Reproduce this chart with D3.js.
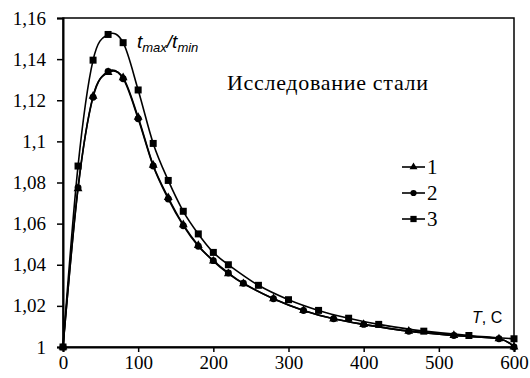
<!DOCTYPE html>
<html>
<head>
<meta charset="utf-8">
<script src="https://cdn.jsdelivr.net/npm/d3@7"></script>
<style>
  body { margin: 0; background: #fff; }
  .serif { font-family: "Times New Roman", "Liberation Serif", "DejaVu Serif", serif; }
  .tick text { font-family: "Times New Roman", "Liberation Serif", "DejaVu Serif", serif; font-size: 19px; fill: #000; }
</style>
</head>
<body>
<div id="app"></div>
<script>
// series values
const xs12 = [0, 20, 40, 60, 80, 100, 120, 140, 160, 180, 200, 220, 240, 280, 320, 360, 400, 460, 520, 580, 600];
const ys1 = [1, 1.077, 1.122, 1.1335, 1.131, 1.1117, 1.0884, 1.0727, 1.0595, 1.0494, 1.0418, 1.0357, 1.0308, 1.0235, 1.0178, 1.0137, 1.011, 1.0077, 1.0056, 1.004, 1.0];
const ys2 = [1, 1.0775, 1.1215, 1.134, 1.1305, 1.111, 1.088, 1.072, 1.059, 1.049, 1.042, 1.036, 1.031, 1.0235, 1.0178, 1.0137, 1.011, 1.0077, 1.0056, 1.004, 1.0];
const xs3 = [0, 20, 40, 60, 80, 100, 120, 140, 160, 180, 200, 220, 260, 300, 340, 380, 420, 480, 540, 600];
const ys3 = [1, 1.088, 1.1395, 1.152, 1.148, 1.125, 1.099, 1.081, 1.066, 1.055, 1.046, 1.040, 1.030, 1.023, 1.0178, 1.014, 1.011, 1.0077, 1.0056, 1.004];
const seriesNames = ['1', '2', '3'];
const xTicks = [0, 100, 200, 300, 400, 500, 600];
const yTicks = [1, 1.02, 1.04, 1.06, 1.08, 1.1, 1.12, 1.14, 1.16];

const svg = d3.select('#app').append('svg')
    .attr('width', 530)
    .attr('height', 378);

const margin = { top: 18, right: 16, bottom: 31, left: 63 };
const width = 530 - margin.left - margin.right;
const height = 378 - margin.top - margin.bottom;

const g = svg.append('g')
    .attr('transform', `translate(${margin.left},${margin.top})`);

const x = d3.scaleLinear().domain([0, 600]).range([0, width]);
const y = d3.scaleLinear().domain([1, 1.16]).range([height, 0]);

const fmt = d => d3.format('.2~f')(d).replace('.', ',');

// frame
g.append('rect')
    .attr('width', width)
    .attr('height', height)
    .attr('fill', 'none')
    .attr('stroke', '#000')
    .attr('stroke-width', 1.5);

const xAxis = g.append('g')
    .attr('transform', `translate(0,${height})`)
    .call(d3.axisBottom(x).tickValues(xTicks).tickSize(5).tickPadding(4).tickFormat(d3.format('d')));

const yAxis = g.append('g')
    .call(d3.axisLeft(y).tickValues(yTicks).tickSize(6).tickPadding(11).tickFormat(fmt));

[xAxis, yAxis].forEach(a => {
  a.attr('font-family', null).attr('font-size', null);
  a.select('.domain').attr('stroke-width', 2);
  a.selectAll('.tick line').attr('stroke-width', 1.5);
});

const series = [
  { name: '1', xs: xs12, ys: ys1, shape: d3.symbolTriangle, size: 34 },
  { name: '2', xs: xs12, ys: ys2, shape: d3.symbolCircle, size: 38 },
  { name: '3', xs: xs3, ys: ys3, shape: d3.symbolSquare, size: 49 }
];

const line = d3.line()
    .x(d => x(d[0]))
    .y(d => y(d[1]))
    .curve(d3.curveCardinal.tension(0));

series.forEach(s => {
  const pts = s.xs.map((v, i) => [v, s.ys[i]]);
  g.append('path')
      .datum(pts)
      .attr('d', line)
      .attr('fill', 'none')
      .attr('stroke', '#000')
      .attr('stroke-width', 1.6);

  g.selectAll(null)
      .data(pts)
      .enter().append('path')
      .attr('transform', d => `translate(${x(d[0])},${y(d[1])})`)
      .attr('d', d3.symbol().type(s.shape).size(s.size))
      .attr('fill', '#000');
});

// legend
const legend = g.selectAll('.legend')
    .data(series)
    .enter().append('g')
    .attr('class', 'legend')
    .attr('transform', (d, i) => `translate(339,${149 + i * 26})`);

legend.append('line')
    .attr('x1', 0).attr('x2', 23)
    .attr('stroke', '#000')
    .attr('stroke-width', 1.6);

legend.append('path')
    .attr('transform', 'translate(11.5,0)')
    .attr('d', d => d3.symbol().type(d.shape).size(d.size * 0.8)());

legend.append('text')
    .attr('class', 'serif')
    .attr('x', 25)
    .attr('dy', '0.35em')
    .style('font-size', '21px')
    .text((d, i) => seriesNames[i]);

// labels
const yLabel = g.append('text')
    .attr('x', 74)
    .attr('y', 30)
    .style('font-family', '"Liberation Sans", Arial, sans-serif')
    .style('font-style', 'italic')
    .style('font-size', '19px');
yLabel.append('tspan').text('t');
yLabel.append('tspan').attr('dy', 4).style('font-size', '13px').text('max');
yLabel.append('tspan').attr('dy', -4).text('/t');
yLabel.append('tspan').attr('dy', 4).style('font-size', '13px').text('min');

g.append('text')
    .attr('class', 'serif')
    .attr('x', 164)
    .attr('y', 72)
    .style('font-size', '22px')
    .style('letter-spacing', '0.7px')
    .text('Исследование стали');

const xLabel = g.append('text')
    .attr('x', 409)
    .attr('y', 305)
    .style('font-family', '"Liberation Sans", Arial, sans-serif')
    .style('font-size', '16px');
xLabel.append('tspan').style('font-style', 'italic').text('T');
xLabel.append('tspan').text(', С');
</script>
</body>
</html>
